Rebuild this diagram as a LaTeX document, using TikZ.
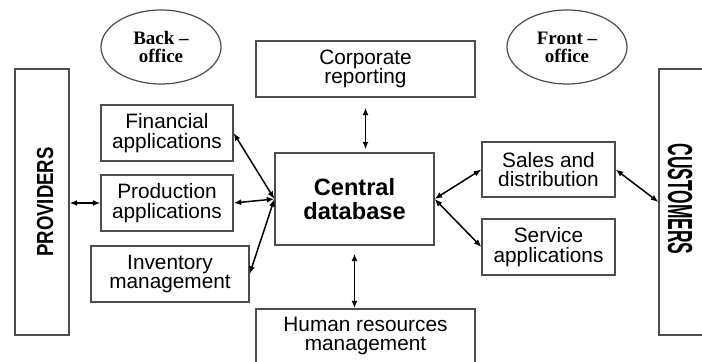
\documentclass[tikz,border=0pt]{standalone}
\usepackage{fontspec}
\setmainfont{Liberation Sans}
\newfontfamily\officefont{Liberation Serif}
\usetikzlibrary{arrows.meta,positioning,shapes.geometric}

\begin{document}
\begin{tikzpicture}[
    x=0.5pt, y=-0.5pt,
    appbox/.style={rectangle, draw=black!70, line width=0.6pt,
                   inner sep=0pt, align=center,
                   font=\fontsize{10.4}{9.9}\selectfont},
    sidebox/.style={rectangle, draw=black!70, line width=0.6pt,
                    minimum width=27pt, minimum height=133pt, inner sep=0pt},
    sidetxt/.style={font=\bfseries\fontsize{9.3}{9.3}\selectfont, inner sep=0pt},
    office/.style={ellipse, draw=black!70, line width=0.6pt,
                   minimum width=60pt, minimum height=37pt, inner sep=0pt,
                   align=center, font=\officefont\bfseries\fontsize{9.5}{8.9}\selectfont},
    biarr/.style={{Latex[length=3.8pt,width=3pt]}-{Latex[length=3.8pt,width=3pt]},
                  line width=0.75pt},
]
\useasboundingbox (0,0) rectangle (702,362);

% providers / customers
\node[sidebox] (prov) at (42,202) {};
\node[sidetxt, rotate=90] (provlbl) at (45,202) {\scalebox{1}[1.25]{PROVIDERS}};
\node[sidebox] (cust) at (686,202) {};
\node[sidetxt, font=\bfseries\fontsize{8.7}{8.7}\selectfont, rotate=-90] (custlbl) at (680,199) {\scalebox{1}[2]{CUSTOMERS}};

% offices
\node[office] (back) at (161,47) {Back –\\office};
\node[office] (front) at (567,47) {Front –\\office};

% back-office applications
\node[appbox, minimum width=66pt, minimum height=28pt] (fin) at (167,133) {Financial\\applications};
\node[appbox, minimum width=66pt, minimum height=28pt] (prod) at (167,203) {Production\\applications};
\node[appbox, minimum width=79pt, minimum height=28pt] (inv) at (170,274) {Inventory\\management};

% central part
\node[appbox, minimum width=109.5pt, minimum height=28pt] (corp) at (365.5,69) {Corporate\\reporting};
\node[appbox, minimum width=79.5pt, minimum height=46pt,
      font=\bfseries\fontsize{11.8}{11.9}\selectfont] (db) at (354.5,199) {Central\\database};
\node[appbox, minimum width=109.5pt, minimum height=27pt] (hr) at (365.5,336) {Human resources\\management};

% front-office applications
\node[appbox, minimum width=66.5pt, minimum height=27.5pt] (sales) at (548.5,169.5) {Sales and\\distribution};
\node[appbox, minimum width=66.5pt, minimum height=28pt] (serv) at (548.5,247) {Service\\applications};

\draw[biarr] (prov.east |- prod.west) -- (prod.west);
\draw[biarr] (db.west) -- (fin.east);
\draw[biarr] (db.west) -- (prod.east);
\draw[biarr] (db.west) -- (inv.east);
\draw[biarr, shorten <=5pt, shorten >=1.5pt] (corp.south) -- (corp.south |- db.north);
\draw[biarr, shorten <=4pt] (db.south) -- (db.south |- hr.north);
\draw[biarr] (db.east) -- (sales.west);
\draw[biarr] (db.east) -- (serv.west);
\draw[biarr] (sales.east) -- (cust.west);

\end{tikzpicture}
\end{document}
